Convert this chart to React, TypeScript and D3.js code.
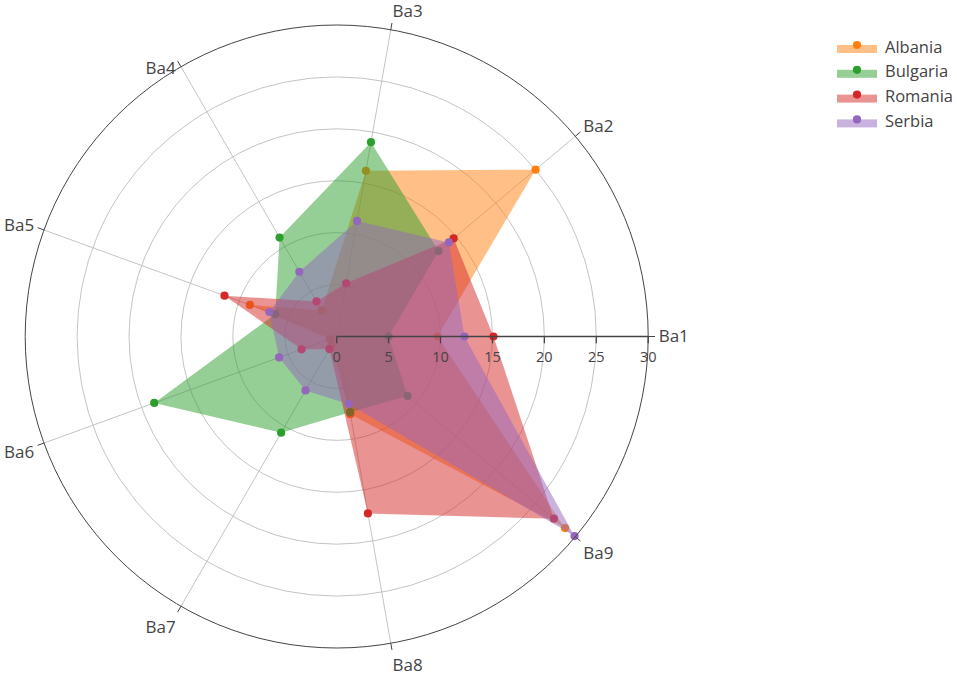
import React from 'react';
import * as d3 from 'd3';

const categories = ['Ba1', 'Ba2', 'Ba3', 'Ba4', 'Ba5', 'Ba6', 'Ba7', 'Ba8', 'Ba9'];
const seriesNames = ['Albania', 'Bulgaria', 'Romania', 'Serbia'];
const albania = [9.7, 25, 16.2, 2.9, 8.9, 0.7, 1.0, 7.6, 28.7];
const bulgaria = [5, 12.8, 19, 11, 6.3, 18.7, 10.7, 7.4, 8.9];
const romania = [15.1, 14.7, 5.2, 3.9, 11.5, 3.6, 1.4, 17.3, 27.3];
const serbia = [12.3, 14.1, 11.3, 7.2, 6.9, 5.9, 6.0, 6.6, 29.9];
const radialTicks = [0, 5, 10, 15, 20, 25, 30];
const colors = ['#ff7f0e', '#2ca02c', '#d62728', '#9467bd'];

const W = 957;
const H = 677;
const cx = 336.7;
const cy = 336.5;
const R = 311.5;
const FONT = '"Open Sans", Verdana, Arial, sans-serif';

export default function App() {
  const seriesValues = [albania, bulgaria, romania, serbia];
  const r = d3.scaleLinear().domain([0, 30]).range([0, R]);
  const ang = d3.scaleLinear().domain([0, categories.length]).range([0, 2 * Math.PI]);
  const px = (i: number, v: number) => cx + r(v) * Math.cos(ang(i));
  const py = (i: number, v: number) => cy - r(v) * Math.sin(ang(i));

  const line = d3
    .lineRadial<number>()
    .angle((_, i) => Math.PI / 2 - ang(i))
    .radius((v) => r(v))
    .curve(d3.curveLinearClosed);

  const fs = 17;
  const pad = 10.5;
  const labelPos = (i: number) => {
    const a = ang(i);
    const s = Math.sin(a);
    const c = Math.cos(a);
    const ff = s > 0.001 ? 0.2 : 1;
    const x = cx + R * c + c * pad;
    let y = cy - R * s - s * (pad + fs * ff) + Math.abs(c) * fs * 0.35;
    // upper-left label sits level with its tick in the reference
    if (c < -0.4 && s > 0.8) y = cy - R * s + 7.5;
    const anchor = Math.abs(c) < 0.1 ? 'middle' : c > 0 ? 'start' : 'end';
    return { x, y, anchor };
  };

  return (
    <svg
      width={W}
      height={H}
      style={{ position: 'absolute', left: 0, top: 0, background: '#fff' }}
      fontFamily={FONT}
    >
      {radialTicks.slice(1, -1).map((t) => (
        <circle key={t} cx={cx} cy={cy} r={r(t)} fill="none" stroke="#c4c4c4" strokeWidth={1} />
      ))}
      {categories.map((c, i) => (
        <line key={c} x1={cx} y1={cy} x2={px(i, 30)} y2={py(i, 30)} stroke="#c4c4c4" strokeWidth={1} />
      ))}
      {seriesValues.map((vals, si) => (
        <g key={seriesNames[si]}>
          <path
            d={line(vals) || ''}
            transform={`translate(${cx},${cy})`}
            fill={colors[si]}
            fillOpacity={0.5}
            stroke="none"
          />
          {vals.map((v, i) => (
            <circle key={i} cx={px(i, v)} cy={py(i, v)} r={4.1} fill={colors[si]} />
          ))}
        </g>
      ))}
      <circle cx={cx} cy={cy} r={R} fill="none" stroke="#444" strokeWidth={1} />
      {categories.map((c, i) => {
        const a = ang(i);
        const lp = labelPos(i);
        return (
          <g key={c}>
            <line
              x1={cx + R * Math.cos(a)}
              y1={cy - R * Math.sin(a)}
              x2={cx + (R + 6.8) * Math.cos(a)}
              y2={cy - (R + 6.8) * Math.sin(a)}
              stroke="#444"
              strokeWidth={1}
            />
            <text x={lp.x} y={lp.y} textAnchor={lp.anchor} fontSize={fs} fill="#444">
              {c}
            </text>
          </g>
        );
      })}
      <line x1={cx} y1={cy} x2={cx + R} y2={cy} stroke="#444" strokeWidth={1.3} />
      {radialTicks.map((t) => (
        <g key={t}>
          <line x1={cx + r(t)} y1={cy} x2={cx + r(t)} y2={cy + 6.8} stroke="#444" strokeWidth={1.3} />
          <text x={cx + r(t)} y={361.7} textAnchor="middle" fontSize={14.5} fill="#444">
            {t}
          </text>
        </g>
      ))}
      {seriesNames.map((n, i) => {
        const y0 = 45 + i * 24.8;
        return (
          <g key={n}>
            <rect x={837} y={y0} width={40} height={8} fill={colors[i]} fillOpacity={0.5} />
            <circle cx={857} cy={y0} r={4.1} fill={colors[i]} />
            <text x={885} y={y0 + 7.5} fontSize={16.5} fill="#444">
              {n}
            </text>
          </g>
        );
      })}
    </svg>
  );
}
